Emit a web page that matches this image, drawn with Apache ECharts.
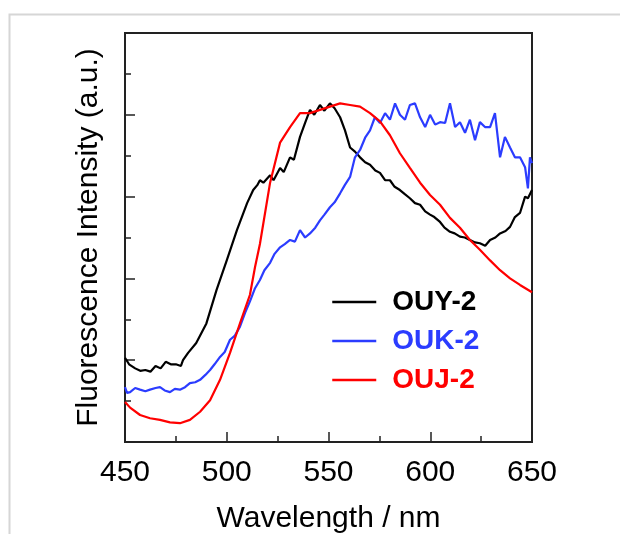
<!DOCTYPE html>
<html>
<head>
<meta charset="utf-8">
<script src="https://cdn.jsdelivr.net/npm/echarts@6/dist/echarts.min.js"></script>
<style>
  html, body { margin: 0; padding: 0; background: #fff; }
  #chart { width: 620px; height: 534px; }
</style>
</head>
<body>
<div id="chart"></div>
<script>
// 波长刻度
var xTicks = [450, 500, 550, 600, 650];

// OUY-2 (黑)
var ouyWave = [450, 452, 455, 457.5, 460, 462.5, 465, 467.5, 470, 472.5, 475, 477.5, 478.5, 481, 485, 490, 495, 500, 505, 510,
    513, 515, 516.3, 518, 521.3, 523, 526.2, 528, 531.1, 533, 536, 538.5, 540.9, 543, 545.8, 548, 550.7, 553, 555.7, 558.1,
    560.6, 563, 565.5, 568, 570.4, 573, 575.3, 577.8, 580.2, 582.5, 585.1, 587.5, 590, 592.5, 595, 597.5, 599.9, 602, 604.8, 607,
    609.7, 612, 614.6, 617, 619.5, 622, 624.4, 627, 629.4, 632, 634.3, 637, 639.2, 641.6, 644.1, 646.6, 648, 650];
var ouyVal = [1.03, 0.95, 0.90, 0.87, 0.88, 0.86, 0.93, 0.90, 0.98, 0.95, 0.95, 0.93, 1.0, 1.09, 1.21, 1.45, 1.86, 2.22, 2.59, 2.92,
    3.08, 3.14, 3.2, 3.17, 3.26, 3.2, 3.35, 3.3, 3.48, 3.45, 3.73, 3.9, 4.06, 4.0, 4.12, 4.05, 4.14, 4.08, 3.97, 3.81,
    3.6, 3.55, 3.48, 3.42, 3.39, 3.32, 3.29, 3.2, 3.2, 3.12, 3.08, 3.03, 2.98, 2.92, 2.9, 2.82, 2.78, 2.75, 2.69, 2.62,
    2.57, 2.55, 2.51, 2.5, 2.47, 2.44, 2.43, 2.40, 2.47, 2.5, 2.55, 2.58, 2.63, 2.75, 2.8, 3.0, 2.98, 3.08];

// OUK-2 (蓝)
var oukWave = [450, 451, 452.5, 455, 457.4, 460, 462.3, 465, 467.2, 469.5, 472.1, 474.5, 477, 479.5, 481.9, 484.5, 486.9, 489.5, 491.8, 494,
    496.7, 499, 501.6, 504, 506.5, 509, 511.4, 513.9, 516.3, 518.5, 521.3, 523.5, 526.2, 528.5, 531.1, 533.5, 536, 538.5, 540.9, 543.5,
    545.8, 548, 550.7, 553, 555.7, 558, 560.6, 563, 565.5, 568, 570.4, 572.8, 575.3, 577.8, 580.2, 582.7, 585.1, 587.6, 590, 592.5,
    595, 597.5, 599.9, 602.4, 604.8, 607.3, 609.7, 612.2, 614.6, 617.1, 619.5, 622, 624.4, 626.9, 629.4, 631.8, 634.3, 636.7, 639.2, 641.6,
    644.1, 646.6, 648, 649, 650];
var oukVal = [0.67, 0.6, 0.61, 0.66, 0.64, 0.62, 0.64, 0.66, 0.67, 0.63, 0.61, 0.65, 0.64, 0.67, 0.72, 0.73, 0.76, 0.82, 0.88, 0.95,
    1.04, 1.1, 1.25, 1.3, 1.41, 1.58, 1.72, 1.88, 1.98, 2.1, 2.19, 2.3, 2.38, 2.42, 2.47, 2.45, 2.59, 2.5, 2.55, 2.62,
    2.71, 2.78, 2.87, 2.93, 3.04, 3.14, 3.24, 3.48, 3.57, 3.72, 3.81, 3.97, 3.9, 4.02, 3.94, 4.14, 4.0, 3.94, 4.12, 4.14,
    3.97, 3.85, 4.0, 3.88, 3.91, 3.9, 4.14, 3.85, 3.91, 3.78, 3.94, 3.69, 3.91, 3.85, 3.85, 4.02, 3.48, 3.73, 3.6, 3.48,
    3.48, 3.36, 3.1, 3.48, 3.41];

// OUJ-2 (红)
var oujWave = [450, 452.5, 457.4, 462.3, 467.2, 472.1, 477, 481.9, 486.9, 491.8, 496.7, 501.6, 506.5, 511.4, 513.9, 516.3, 521.3, 526.2, 531.1, 536,
    540.9, 545.8, 550.7, 555.7, 560.6, 565.5, 570.4, 575.3, 580.2, 585.1, 590, 595, 599.9, 604.8, 609.7, 614.6, 619.5, 624.4, 629.4, 634.3,
    639.2, 644.1, 650];
var oujVal = [0.49, 0.42, 0.33, 0.29, 0.27, 0.24, 0.23, 0.27, 0.37, 0.51, 0.76, 1.09, 1.45, 1.8, 2.14, 2.42, 3.17, 3.66, 3.85, 4.02,
    4.02, 4.06, 4.1, 4.14, 4.12, 4.1, 4.02, 3.92, 3.75, 3.53, 3.35, 3.17, 3.02, 2.9, 2.74, 2.62, 2.47, 2.35, 2.22, 2.1,
    2.0, 1.92, 1.83];

function pairs(xs, ys) {
    var out = [];
    for (var i = 0; i < xs.length; i++) {
        out.push([xs[i], ys[i]]);
    }
    return out;
}

var FONT = 'Liberation Sans';
var myChart = echarts.init(document.getElementById('chart'));

var option = {
    backgroundColor: '#fff',
    animation: false,
    graphic: [{
        type: 'rect',
        shape: { x: 9.5, y: 14.5, width: 700, height: 600 },
        style: { fill: 'none', stroke: '#d6d6d6', lineWidth: 2 },
        silent: true
    }],
    grid: {
        left: 125,
        right: 88,
        top: 33,
        bottom: 92,
        outerBoundsMode: 'none',
        containLabel: false,
        show: true,
        borderColor: '#222',
        borderWidth: 2
    },
    legend: {
        orient: 'vertical',
        left: 331,
        top: 288,
        padding: 0,
        itemWidth: 44,
        itemHeight: 28,
        itemGap: 11,
        itemStyle: { opacity: 0 },
        lineStyle: { width: 2.5 },
        textStyle: { fontFamily: FONT, fontSize: 28, fontWeight: 'bold', padding: [0, 0, 0, 11] },
        data: [
            { name: 'OUY-2', textStyle: { color: '#000' } },
            { name: 'OUK-2', textStyle: { color: '#2b3cff' } },
            { name: 'OUJ-2', textStyle: { color: '#ff0000' } }
        ]
    },
    xAxis: {
        type: 'value',
        min: 450,
        max: 650,
        interval: 50,
        name: 'Wavelength / nm',
        nameLocation: 'middle',
        nameGap: 62,
        nameTextStyle: { fontFamily: FONT, fontSize: 30, color: '#000' },
        axisLine: { lineStyle: { color: '#222', width: 2 } },
        axisTick: { inside: true, length: 10, lineStyle: { color: '#222', width: 1.5 } },
        minorTick: { show: true, splitNumber: 2, length: 6, lineStyle: { color: '#222', width: 1.5 } },
        axisLabel: { fontFamily: FONT, fontSize: 30, color: '#000', margin: 16 },
        splitLine: { show: false }
    },
    yAxis: {
        type: 'value',
        min: 0,
        max: 5,
        interval: 1,
        name: 'Fluorescence Intensity (a.u.)',
        nameLocation: 'middle',
        nameRotate: 90,
        nameGap: 21,
        nameTextStyle: { fontFamily: FONT, fontSize: 30, color: '#000' },
        axisLine: { lineStyle: { color: '#222', width: 2 } },
        axisTick: { inside: true, length: 10, lineStyle: { color: '#222', width: 1.5 } },
        minorTick: { show: true, splitNumber: 2, length: 6, lineStyle: { color: '#222', width: 1.5 } },
        axisLabel: { show: false },
        splitLine: { show: false }
    },
    series: [
        {
            name: 'OUY-2', type: 'line', symbol: 'none',
            lineStyle: { color: '#000', width: 2.2 }, itemStyle: { color: '#000' },
            data: pairs(ouyWave, ouyVal)
        },
        {
            name: 'OUK-2', type: 'line', symbol: 'none',
            lineStyle: { color: '#2b3cff', width: 2.2 }, itemStyle: { color: '#2b3cff' },
            data: pairs(oukWave, oukVal)
        },
        {
            name: 'OUJ-2', type: 'line', symbol: 'none',
            lineStyle: { color: '#ff0000', width: 2.2 }, itemStyle: { color: '#ff0000' },
            data: pairs(oujWave, oujVal)
        }
    ]
};

myChart.setOption(option);
</script>
</body>
</html>
